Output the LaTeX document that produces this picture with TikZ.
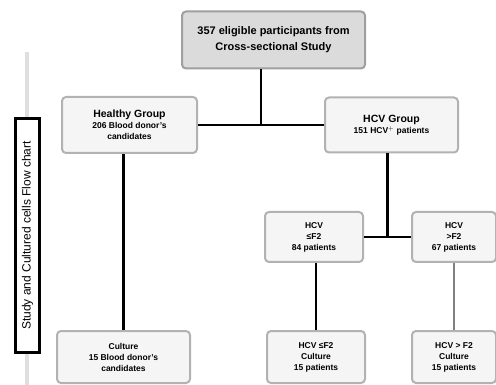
\documentclass[tikz,border=0pt]{standalone}
\usepackage{fontspec}
\setmainfont{Liberation Sans}
\usepackage{tikz}
\usetikzlibrary{calc}

\begin{document}
\begin{tikzpicture}[x=1pt,y=-1pt]

        \useasboundingbox (0,0) rectangle (496,385);

        % side label
        \draw[gray!25, line width=4pt] (26.5,52) -- (26.5,385);
        \node[draw, line width=2.2pt, fill=white, rotate=90, minimum width=234pt,
              minimum height=24pt, inner sep=0pt, font=\fontsize{12}{13}\selectfont]
              (side) at (27.5,235.5) {Study and Cultured cells Flow chart};

        \begin{scope}[every node/.style={rounded corners=4pt, draw=gray!60, line width=2pt,
                      fill=gray!8, align=center, inner sep=1pt,
                      font=\fontsize{8.5}{11}\selectfont\bfseries}]
          \node[fill=gray!28, draw=gray!75, minimum width=183pt, minimum height=57pt,
                font=\fontsize{11}{16}\selectfont\bfseries]
                (top) at (273.5,40) {357 eligible participants from\\Cross-sectional Study};
          \node[minimum width=135pt, minimum height=56pt] (healthy) at (129.5,125)
                {{\fontsize{10.5}{13}\selectfont Healthy Group}\\206 Blood donor's\\candidates};
          \node[minimum width=133pt, minimum height=55pt] (hcv) at (391.5,125)
                {{\fontsize{10.5}{13}\selectfont HCV Group}\\151 HCV$^{+}$ patients};
          \node[minimum width=98pt, minimum height=50pt] (low) at (314,237)
                {HCV\\≤F2\\84 patients};
          \node[minimum width=84pt, minimum height=50pt] (high) at (454,237)
                {HCV\\>F2\\67 patients};
          \node[minimum width=133pt, minimum height=52pt] (cheal) at (123.5,357)
                {Culture\\15 Blood donor's\\candidates};
          \node[minimum width=98pt, minimum height=52pt] (clow) at (316,357)
                {HCV ≤F2\\Culture\\15 patients};
          \node[minimum width=84pt, minimum height=52pt] (chigh) at (454,357)
                {HCV > F2\\Culture\\15 patients};
        \end{scope}

        \begin{scope}[line width=2.5pt]
          \draw (healthy) -- (hcv);
          \coordinate (mid) at ($(healthy.east)!0.5!(hcv.west)$);
          \draw (mid) -- (mid |- top.south);
          \draw (low) -- (high);
          \draw ([xshift=-4pt]hcv.south) -- ([xshift=-4pt]hcv.south |- low.east);
          \draw (cheal.north) -- (cheal.north |- healthy.south);
          \draw (clow.north) -- (clow.north |- low.south);
          \draw[gray] (chigh.north) -- (chigh.north |- high.south);
        \end{scope}

      \end{tikzpicture}
\end{document}
